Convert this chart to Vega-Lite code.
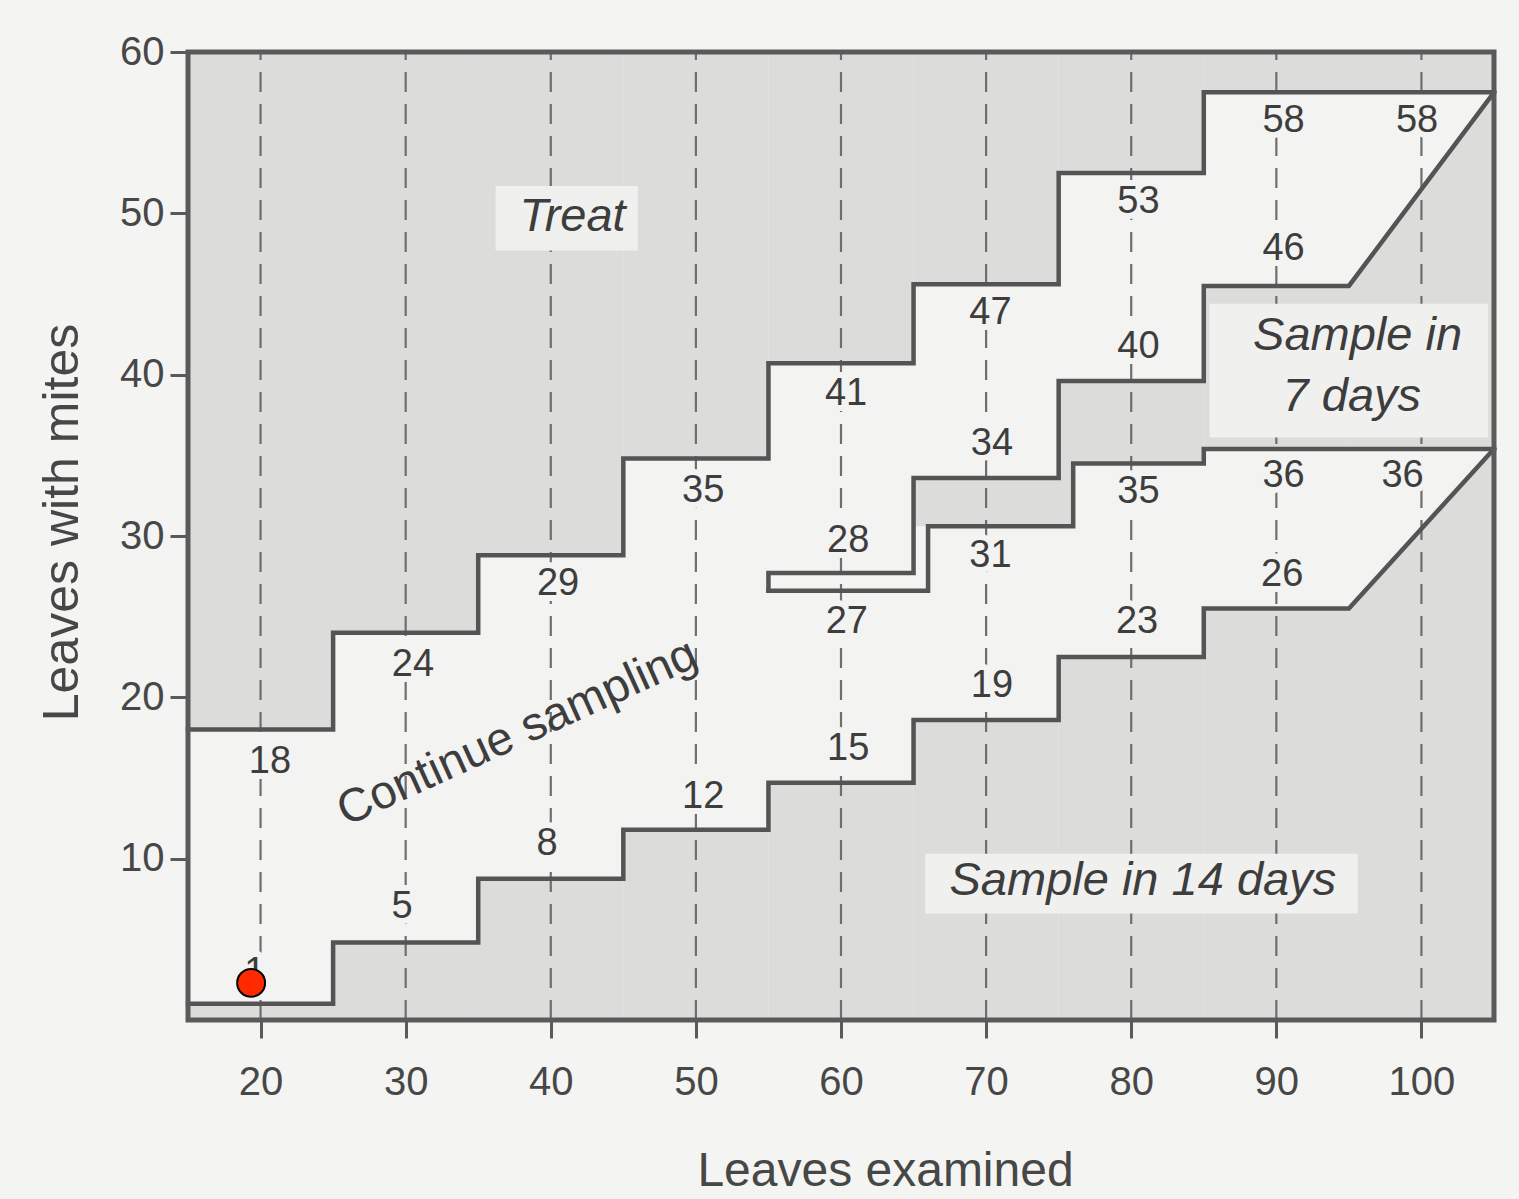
{
  "$schema": "https://vega.github.io/schema/vega-lite/v6.json",
  "width": 1306,
  "height": 968,
  "autosize": {"type": "none"},
  "padding": {"left": 188, "top": 52, "right": 25, "bottom": 179},
  "background": "#f4f4f2",
  "config": {
    "view": {"fill": "#f3f3f2", "stroke": null},
    "font": "Liberation Sans"
  },
  "datasets": {
    "gray": [
      {"x": 15, "x2": 25, "y": 18, "y2": 60}, {"x": 25, "x2": 35, "y": 24, "y2": 60},
      {"x": 35, "x2": 45, "y": 28.8, "y2": 60}, {"x": 45, "x2": 55, "y": 34.8, "y2": 60},
      {"x": 55, "x2": 65, "y": 40.7, "y2": 60}, {"x": 65, "x2": 75, "y": 45.6, "y2": 60},
      {"x": 75, "x2": 85, "y": 52.5, "y2": 60}, {"x": 85, "x2": 105, "y": 57.5, "y2": 60},
      {"x": 15, "x2": 25, "y": 0, "y2": 1}, {"x": 25, "x2": 35, "y": 0, "y2": 4.8},
      {"x": 35, "x2": 45, "y": 0, "y2": 8.75}, {"x": 45, "x2": 55, "y": 0, "y2": 11.8},
      {"x": 55, "x2": 65, "y": 0, "y2": 14.7}, {"x": 65, "x2": 75, "y": 0, "y2": 18.6},
      {"x": 75, "x2": 85, "y": 0, "y2": 22.5}, {"x": 85, "x2": 95, "y": 0, "y2": 25.5},
      {"x": 65, "x2": 76, "y": 30.6, "y2": 33.6}, {"x": 75, "x2": 76, "y": 33.6, "y2": 39.6},
      {"x": 76, "x2": 85, "y": 34.5, "y2": 39.6}, {"x": 85, "x2": 95, "y": 35.4, "y2": 45.5}
    ],
    "tri": [
      {"g": "seven", "x": 95, "y": 35.4, "y2": 45.5}, {"g": "seven", "x": 105, "y": 35.4, "y2": 57.5},
      {"g": "fourteen", "x": 95, "y": 0, "y2": 25.5}, {"g": "fourteen", "x": 105, "y": 0, "y2": 35.4}
    ],
    "boxes": [
      {"x": 36.2, "x2": 46.0, "y": 47.7, "y2": 51.7},
      {"x": 65.8, "x2": 95.6, "y": 6.6, "y2": 10.3},
      {"x": 85.4, "x2": 104.6, "y": 36.1, "y2": 44.4}
    ],
    "grid": [
      {"x": 20, "y": 0, "y2": 60}, {"x": 30, "y": 0, "y2": 60}, {"x": 40, "y": 0, "y2": 60},
      {"x": 50, "y": 0, "y2": 60}, {"x": 60, "y": 0, "y2": 60}, {"x": 70, "y": 0, "y2": 60},
      {"x": 80, "y": 0, "y2": 60}, {"x": 90, "y": 0, "y2": 60}, {"x": 100, "y": 0, "y2": 60}
    ],
    "paths": [
      {"p": "upper", "i": 0, "x": 15, "y": 18}, {"p": "upper", "i": 1, "x": 25, "y": 18},
      {"p": "upper", "i": 2, "x": 25, "y": 24}, {"p": "upper", "i": 3, "x": 35, "y": 24},
      {"p": "upper", "i": 4, "x": 35, "y": 28.8}, {"p": "upper", "i": 5, "x": 45, "y": 28.8},
      {"p": "upper", "i": 6, "x": 45, "y": 34.8}, {"p": "upper", "i": 7, "x": 55, "y": 34.8},
      {"p": "upper", "i": 8, "x": 55, "y": 40.7}, {"p": "upper", "i": 9, "x": 65, "y": 40.7},
      {"p": "upper", "i": 10, "x": 65, "y": 45.6}, {"p": "upper", "i": 11, "x": 75, "y": 45.6},
      {"p": "upper", "i": 12, "x": 75, "y": 52.5}, {"p": "upper", "i": 13, "x": 85, "y": 52.5},
      {"p": "upper", "i": 14, "x": 85, "y": 57.5}, {"p": "upper", "i": 15, "x": 105, "y": 57.5},
      {"p": "a", "i": 0, "x": 55, "y": 26.6}, {"p": "a", "i": 1, "x": 55, "y": 27.7},
      {"p": "a", "i": 2, "x": 65, "y": 27.7}, {"p": "a", "i": 3, "x": 65, "y": 33.6},
      {"p": "a", "i": 4, "x": 75, "y": 33.6}, {"p": "a", "i": 5, "x": 75, "y": 39.6},
      {"p": "a", "i": 6, "x": 85, "y": 39.6}, {"p": "a", "i": 7, "x": 85, "y": 45.5},
      {"p": "a", "i": 8, "x": 95, "y": 45.5}, {"p": "a", "i": 9, "x": 105, "y": 57.5},
      {"p": "b", "i": 0, "x": 55, "y": 26.6}, {"p": "b", "i": 1, "x": 66, "y": 26.6},
      {"p": "b", "i": 2, "x": 66, "y": 30.6}, {"p": "b", "i": 3, "x": 76, "y": 30.6},
      {"p": "b", "i": 4, "x": 76, "y": 34.5}, {"p": "b", "i": 5, "x": 85, "y": 34.5},
      {"p": "b", "i": 6, "x": 85, "y": 35.4}, {"p": "b", "i": 7, "x": 105, "y": 35.4},
      {"p": "lower", "i": 0, "x": 15, "y": 1}, {"p": "lower", "i": 1, "x": 25, "y": 1},
      {"p": "lower", "i": 2, "x": 25, "y": 4.8}, {"p": "lower", "i": 3, "x": 35, "y": 4.8},
      {"p": "lower", "i": 4, "x": 35, "y": 8.75}, {"p": "lower", "i": 5, "x": 45, "y": 8.75},
      {"p": "lower", "i": 6, "x": 45, "y": 11.8}, {"p": "lower", "i": 7, "x": 55, "y": 11.8},
      {"p": "lower", "i": 8, "x": 55, "y": 14.7}, {"p": "lower", "i": 9, "x": 65, "y": 14.7},
      {"p": "lower", "i": 10, "x": 65, "y": 18.6}, {"p": "lower", "i": 11, "x": 75, "y": 18.6},
      {"p": "lower", "i": 12, "x": 75, "y": 22.5}, {"p": "lower", "i": 13, "x": 85, "y": 22.5},
      {"p": "lower", "i": 14, "x": 85, "y": 25.5}, {"p": "lower", "i": 15, "x": 95, "y": 25.5},
      {"p": "lower", "i": 16, "x": 105, "y": 35.4}
    ],
    "nums": [
      {"x": 20.65, "y": 16.0, "t": "18"}, {"x": 30.5, "y": 22.0, "t": "24"},
      {"x": 40.5, "y": 27.0, "t": "29"}, {"x": 50.5, "y": 32.8, "t": "35"},
      {"x": 60.35, "y": 38.8, "t": "41"}, {"x": 70.3, "y": 43.8, "t": "47"},
      {"x": 80.5, "y": 50.7, "t": "53"}, {"x": 90.5, "y": 55.7, "t": "58"},
      {"x": 99.7, "y": 55.7, "t": "58"},
      {"x": 19.6, "y": 2.9, "t": "1"}, {"x": 29.75, "y": 7.0, "t": "5"},
      {"x": 39.75, "y": 10.9, "t": "8"}, {"x": 50.5, "y": 13.85, "t": "12"},
      {"x": 60.5, "y": 16.8, "t": "15"}, {"x": 70.4, "y": 20.7, "t": "19"},
      {"x": 80.4, "y": 24.7, "t": "23"}, {"x": 90.4, "y": 27.6, "t": "26"},
      {"x": 60.5, "y": 29.7, "t": "28"}, {"x": 60.4, "y": 24.7, "t": "27"},
      {"x": 70.4, "y": 35.7, "t": "34"}, {"x": 70.3, "y": 28.75, "t": "31"},
      {"x": 80.5, "y": 41.7, "t": "40"}, {"x": 80.5, "y": 32.7, "t": "35"},
      {"x": 90.5, "y": 47.8, "t": "46"}, {"x": 90.5, "y": 33.7, "t": "36"},
      {"x": 98.7, "y": 33.7, "t": "36"}
    ],
    "regions": [
      {"x": 41.5, "y": 49.8, "t": "Treat"},
      {"x": 80.8, "y": 8.6, "t": "Sample in 14 days"},
      {"x": 95.6, "y": 42.4, "t": "Sample in"},
      {"x": 95.2, "y": 38.6, "t": "7 days"}
    ],
    "cont": [{"x": 38.1, "y": 17.0, "t": "Continue sampling"}],
    "frame": [{"x": 15, "x2": 105, "y": 0, "y2": 60}],
    "dot": [{"x": 19.35, "y": 2.3}]
  },
  "encoding": {
    "x": {"field": "x", "type": "quantitative",
      "scale": {"domain": [15, 105], "nice": false, "zero": false},
      "axis": {"values": [20, 30, 40, 50, 60, 70, 80, 90, 100], "title": "Leaves examined",
        "grid": false, "domain": false, "tickSize": 18, "tickWidth": 3, "tickColor": "#5a5a5a",
        "labelFontSize": 40, "labelColor": "#474747", "labelPadding": 24, "labelFlush": false,
        "titleFontSize": 48, "titleFontWeight": "normal", "titleColor": "#474747",
        "titleX": 697, "titleY": 165, "titleBaseline": "alphabetic", "titleAlign": "center"}},
    "y": {"field": "y", "type": "quantitative",
      "scale": {"domain": [0, 60], "nice": false, "zero": false},
      "axis": {"values": [10, 20, 30, 40, 50, 60], "title": "Leaves with mites",
        "grid": false, "domain": false, "tickSize": 18, "tickWidth": 3, "tickColor": "#5a5a5a",
        "labelFontSize": 40, "labelColor": "#474747", "labelPadding": 6, "labelFlush": false,
        "titleFontSize": 50, "titleFontWeight": "normal", "titleColor": "#474747",
        "titleAngle": -90, "titleX": -111, "titleY": 470, "titleBaseline": "alphabetic", "titleAlign": "center"}}
  },
  "layer": [
    {
      "data": {"name": "gray"},
      "mark": {"type": "rect", "color": "#dcdcdb", "strokeWidth": 0},
      "encoding": {"x2": {"field": "x2"}, "y2": {"field": "y2"}}
    },
    {
      "data": {"name": "tri"},
      "mark": {"type": "area", "color": "#dcdcdb", "interpolate": "linear", "opacity": 1},
      "encoding": {"y2": {"field": "y2"}, "detail": {"field": "g"}}
    },
    {
      "data": {"name": "grid"},
      "mark": {"type": "rule", "color": "#6e6e6e", "strokeWidth": 2.2, "strokeDash": [20, 12]},
      "encoding": {"y2": {"field": "y2"}}
    },
    {
      "data": {"name": "boxes"},
      "mark": {"type": "rect", "color": "#f0f0ef", "strokeWidth": 0},
      "encoding": {"x2": {"field": "x2"}, "y2": {"field": "y2"}}
    },
    {
      "data": {"name": "paths"},
      "mark": {"type": "line", "color": "#545454", "strokeWidth": 4.5, "strokeJoin": "miter", "strokeCap": "square", "interpolate": "linear"},
      "encoding": {"detail": {"field": "p"}, "order": {"field": "i", "type": "quantitative"}}
    },
    {
      "data": {"name": "frame"},
      "mark": {"type": "rect", "fill": null, "fillOpacity": 0, "stroke": "#5a5a5a", "strokeWidth": 5},
      "encoding": {"x2": {"field": "x2"}, "y2": {"field": "y2"}}
    },
    {
      "data": {"name": "nums"},
      "mark": {"type": "text", "fontSize": 38, "fill": "#f3f3f2", "stroke": "#f3f3f2", "strokeWidth": 12, "strokeJoin": "round", "align": "center", "baseline": "middle"},
      "encoding": {"text": {"field": "t"}}
    },
    {
      "data": {"name": "nums"},
      "mark": {"type": "text", "fontSize": 38, "color": "#3d3d3d", "align": "center", "baseline": "middle"},
      "encoding": {"text": {"field": "t"}}
    },
    {
      "data": {"name": "regions"},
      "mark": {"type": "text", "fontSize": 47, "fontStyle": "italic", "color": "#3d3d3d", "align": "center", "baseline": "middle"},
      "encoding": {"text": {"field": "t"}}
    },
    {
      "data": {"name": "cont"},
      "mark": {"type": "text", "fontSize": 47, "color": "#3d3d3d", "align": "center", "baseline": "alphabetic", "angle": -24.5},
      "encoding": {"text": {"field": "t"}}
    },
    {
      "data": {"name": "dot"},
      "mark": {"type": "point", "shape": "circle", "filled": true, "fill": "#ff2a00", "stroke": "#000000", "strokeWidth": 2, "size": 780, "opacity": 1}
    }
  ]
}
